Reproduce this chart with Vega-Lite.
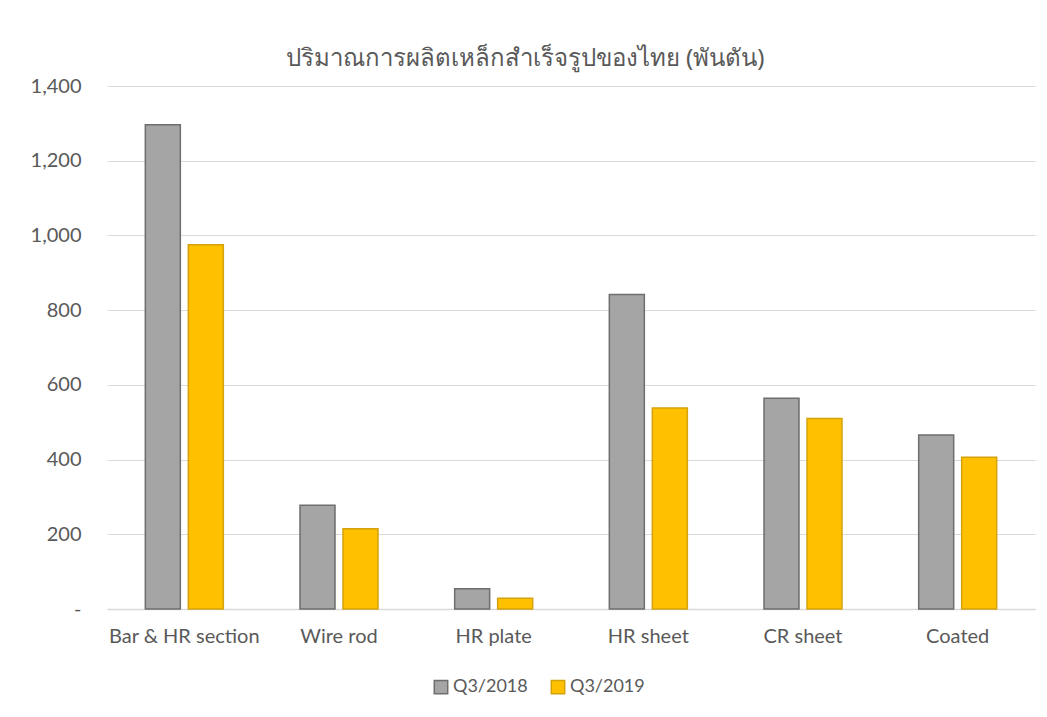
{
  "$schema": "https://vega.github.io/schema/vega-lite/v6.json",
  "autosize": {"type": "none"},
  "padding": {"left": 107, "top": 86, "right": 12, "bottom": 108},
  "width": 928,
  "height": 523,
  "background": "white",
  "title": {
    "text": "ปริมาณการผลิตเหล็กสำเร็จรูปของไทย (พันตัน)",
    "font": "Noto Sans",
    "fontSize": 24,
    "fontWeight": "normal",
    "color": "#595959",
    "anchor": "middle",
    "dx": -46,
    "offset": 5
  },
  "data": {
    "values": [
      {"product": "Bar & HR section", "period": "Q3/2018", "value": 1296},
      {"product": "Bar & HR section", "period": "Q3/2019", "value": 975},
      {"product": "Wire rod", "period": "Q3/2018", "value": 278},
      {"product": "Wire rod", "period": "Q3/2019", "value": 215},
      {"product": "HR plate", "period": "Q3/2018", "value": 54},
      {"product": "HR plate", "period": "Q3/2019", "value": 29},
      {"product": "HR sheet", "period": "Q3/2018", "value": 842},
      {"product": "HR sheet", "period": "Q3/2019", "value": 538},
      {"product": "CR sheet", "period": "Q3/2018", "value": 564},
      {"product": "CR sheet", "period": "Q3/2019", "value": 510},
      {"product": "Coated", "period": "Q3/2018", "value": 466},
      {"product": "Coated", "period": "Q3/2019", "value": 406}
    ]
  },
  "mark": {"type": "bar", "strokeWidth": 1.5},
  "encoding": {
    "x": {
      "field": "product",
      "type": "nominal",
      "sort": null,
      "scale": {"paddingInner": 0.4957, "paddingOuter": 0.2478},
      "axis": {
        "title": null,
        "labelAngle": 0,
        "labelFont": "Lato",
        "labelFontSize": 20,
        "labelColor": "#595959",
        "labelPadding": 17,
        "ticks": false,
        "domainColor": "#D9D9D9",
        "domainWidth": 1.5
      }
    },
    "xOffset": {
      "field": "period",
      "type": "nominal",
      "scale": {"paddingInner": 0.186, "paddingOuter": 0}
    },
    "y": {
      "field": "value",
      "type": "quantitative",
      "scale": {"domain": [0, 1400], "nice": false},
      "axis": {
        "title": null,
        "values": [0, 200, 400, 600, 800, 1000, 1200, 1400],
        "labelExpr": "datum.value == 0 ? '-' : format(datum.value, ',')",
        "labelFont": "Lato",
        "labelFontSize": 20,
        "labelColor": "#595959",
        "labelPadding": 26,
        "ticks": false,
        "domain": false,
        "gridColor": "#D9D9D9",
        "gridWidth": 1.2
      }
    },
    "color": {
      "field": "period",
      "type": "nominal",
      "scale": {"domain": ["Q3/2018", "Q3/2019"], "range": ["#A5A5A5", "#FFC000"]},
      "legend": {
        "title": null,
        "orient": "none",
        "direction": "horizontal",
        "legendX": 325,
        "legendY": 592,
        "symbolType": "square",
        "symbolSize": 180,
        "symbolStrokeWidth": 1.5,
        "labelFont": "Lato",
        "labelFontSize": 18,
        "labelColor": "#595959",
        "labelOffset": 3,
        "columnPadding": 20
      }
    },
    "stroke": {
      "field": "period",
      "type": "nominal",
      "scale": {"domain": ["Q3/2018", "Q3/2019"], "range": ["#6E6E6E", "#D4A20B"]},
      "legend": null
    }
  },
  "config": {"view": {"stroke": null}}
}
